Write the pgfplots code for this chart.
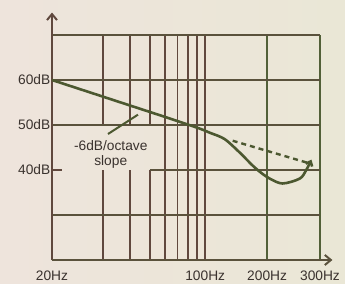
\documentclass[border=0pt]{standalone}
\usepackage{pgfplots}
\pgfplotsset{compat=1.18}
\usepackage{fontspec}
\setmainfont{Liberation Sans}
\usetikzlibrary{arrows.meta}
\definecolor{bgL}{RGB}{238,228,220}
\definecolor{bgR}{RGB}{234,231,214}
\definecolor{brownink}{RGB}{96,72,62}
\definecolor{greenink}{RGB}{82,96,56}
\definecolor{midink}{RGB}{90,82,60}
\definecolor{curvec}{RGB}{76,88,48}
\definecolor{txt}{RGB}{58,50,46}
\begin{document}
\begin{tikzpicture}
% background (axis box south-west corner sits at the origin)
\fill[left color=bgL, right color=bgR] (-52bp,-24bp) rectangle (293bp,260bp);
\begin{axis}[
  at={(0,0)}, anchor=south west,
  scale only axis, width=268bp, height=225bp,
  xmin=20, xmax=300, ymin=20, ymax=70,
  x coord trafo/.code={\pgfmathparse{(#1<=100) ? (153.5*(log10(#1/20)/0.69897)^0.8) : ((#1<=200) ? (153.5+206*log10(#1/100)) : (215.5+301*log10(#1/200)))}},
  clip=false,
  axis line style={draw=none},
  tick style={draw=none},
  xtick={20,100,200,300}, xticklabels={20Hz,100Hz,200Hz,300Hz},
  ytick={40,50,60}, yticklabels={40dB,50dB,60dB},
  ticklabel style={font=\fontsize{13.8}{15}\selectfont, text=txt},
  xticklabel style={yshift=-7bp},
  yticklabel style={inner sep=1.5bp},
]
% vertical grid lines (full)
\pgfplotsinvokeforeach{60,70,80,90,100}{\addplot[brownink, line width=1.75bp] coordinates {(#1,20) (#1,70)};}
\addplot[greenink, line width=1.85bp] coordinates {(200,20) (200,70)};
\addplot[greenink, line width=1.9bp] coordinates {(300,20) (300,70)};
% vertical grid lines with gap for the label
\pgfplotsinvokeforeach{30,40,50}{\addplot[brownink, line width=1.75bp] coordinates {(#1,20) (#1,40)};
\addplot[brownink, line width=1.75bp] coordinates {(#1,50) (#1,70)};}
% horizontal grid lines
\addplot[midink, line width=1.9bp] coordinates {(20,70) (300,70)};
\addplot[midink, line width=1.75bp] coordinates {(20,60) (300,60)};
\addplot[midink, line width=1.75bp] coordinates {(20,50) (300,50)};
\addplot[midink, line width=1.75bp] coordinates {(50,40) (300,40)};
\addplot[midink, line width=1.75bp] coordinates {(20,30) (300,30)};
\addplot[brownink, line width=1.75bp] coordinates {(20,40) (21.1,40)};
% axes with arrows
\addplot[brownink, line width=2bp, -{Straight Barb[length=6bp,width=10bp]}] coordinates {(20,20) (20,75)};
\addplot[midink, line width=2bp, -{Straight Barb[length=6bp,width=10bp]}] coordinates {(20,20) (330,20)};
% response curve
\addplot[curvec, line width=2.6bp, smooth, tension=0.5, -{Straight Barb[length=4bp,width=7bp]}] coordinates {(20,60) (27.0,57.1) (40.8,54.2) (65.3,51.3) (93,49.2) (105,48.3) (124,46.9) (147,43.9) (170,41.0) (188,39.3) (204,38.1) (225,37.0) (257,38.1) (270,40.0) (281,42.3)};
% -6dB/octave extrapolation (dashed)
\addplot[curvec, line width=2.4bp, dash pattern=on 5bp off 4bp] coordinates {(136,46.5) (276,41.5)};
% pointer
\addplot[curvec, line width=2bp] coordinates {(31.6,48.0) (43.7,52.3)};
\node[align=center, font=\fontsize{13.8}{15}\selectfont, text=txt] at (axis cs:32.5,43.4) {-6dB/octave\\slope};
\end{axis}
\end{tikzpicture}
\end{document}
